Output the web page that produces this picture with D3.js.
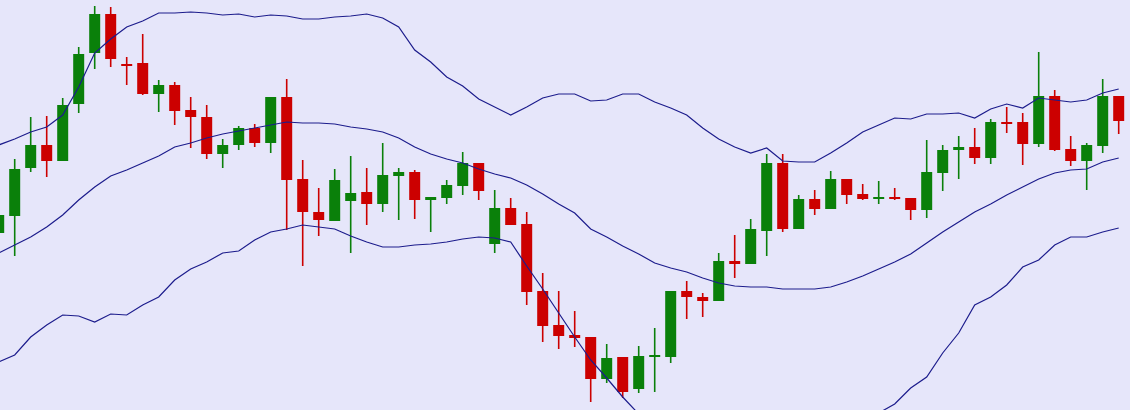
<!DOCTYPE html>

<head>
    <meta charset="utf-8">
    <script src="https://d3js.org/d3.v7.min.js"></script>
    <style>
        body {
            margin: 0;
            background: #e6e6fa;
            overflow: hidden;
        }
        .band {
            fill: none;
            stroke: #1c1c8c;
            stroke-width: 1.2px;
        }
        .wick {
            stroke-width: 1.6px;
        }
    </style>
</head>

<body>
<div id="chart"></div>
<script>
    // price series, one entry per session
    var open  = [177,194,242,265,249,306,357,396,346,347, 316,325,300,293,256,265,282,267,313,231,
                 198,189,209,218,206,234,238,210,212,224, 247,166,202,186,119,85,75,73,31,53,
                 21,53,53,119,113,109,149,146,179,247, 181,211,201,231,216,211,213,212,200,237,
                 260,263,252,288,288,266,314,261,249,264, 314];
    var high  = [200,251,293,294,312,363,404,403,353,376, 330,328,313,305,271,284,286,313,331,250,
                 222,241,254,242,267,242,240,213,230,258, 247,220,212,198,137,119,99,73,66,53,
                 64,82,119,129,117,157,175,191,256,256, 215,220,239,231,226,229,222,212,270,265,
                 274,282,291,303,297,358,320,274,267,331, 314];
    var low   = [172,154,238,233,249,297,341,343,325,315, 298,285,262,251,242,260,263,257,180,144,
                 174,189,157,185,198,190,191,178,206,215, 210,157,185,105,68,61,63,8,27,12,
                 17,18,47,91,93,109,132,146,154,178, 181,195,201,206,210,206,210,190,192,219,
                 231,246,246,277,245,263,259,244,220,257, 276];
    var close = [195,241,265,249,305,356,396,351,344,316, 325,299,293,256,265,282,267,313,230,198,
                 190,230,217,206,235,238,210,213,225,247, 219,202,185,118,84,74,72,31,52,18,
                 54,55,119,113,109,149,146,181,247,181, 211,201,231,215,211,213,211,200,238,260,
                 263,252,288,287,266,314,260,249,265,314, 289];

    // bollinger bands
    var upper  = [265,271,278,283,295,323,357,371,383,389, 397,397,398,397,395,396,393,395,394,391,
                  391,393,394,396,392,383,360,348,333,324, 311,303,295,303,312,316,316,309,310,316,
                  316,308,302,295,282,271,263,257,262,249, 248,248,257,267,278,285,292,291,296,296,
                  297,292,301,306,302,312,310,308,310,317, 321];
    var middle = [157,165,173,183,195,210,223,234,240,247, 254,263,267,272,276,279,282,285,288,287,
                  287,286,283,281,278,272,263,256,251,247, 241,236,232,225,216,206,197,181,173,164,
                  156,147,142,138,132,127,124,123,123,121, 121,121,123,128,134,141,148,156,167,178,
                  188,198,206,215,223,231,237,240,241,248, 252];
    var lower  = [48,55,73,85,95,94,88,96,95,105, 113,130,141,148,157,159,170,178,181,185,
                  183,181,174,168,163,163,165,166,168,171, 173,172,168,144,121,97,73,50,32,13,
                  -4,-14,-18,-19,-18,-17,-15,-11,-16,-7, -6,-6,-11,-11,-10,-3,6,22,33,57,
                  77,105,113,125,143,150,165,173,173,178, 182];

    var width = 1130;
    var height = 410;
    var upColor = "#0a800a";
    var downColor = "#cc0000";
    var bodyWidth = 11;

    var candles = open.map(function (o, i) {
        return { i: i, o: o, h: high[i], l: low[i], c: close[i] };
    });

    var svg = d3.select("#chart")
        .append("svg")
        .attr("width", width)
        .attr("height", height);

    // x: session index to candle centre, y: price to pixels
    var x = d3.scaleLinear()
        .domain([0, candles.length - 1])
        .range([-1.3, 1118.7]);

    var y = d3.scaleLinear()
        .domain([0, 410])
        .range([height, 0]);

    function colorOf(d) {
        return d.c >= d.o ? upColor : downColor;
    }

    var g = svg.append("g").attr("class", "candles");

    // wicks first so the bodies sit on top
    g.selectAll("line.wick")
        .data(candles)
        .enter().append("line")
        .attr("class", "wick")
        .attr("x1", function (d) { return x(d.i); })
        .attr("x2", function (d) { return x(d.i); })
        .attr("y1", function (d) { return y(d.h); })
        .attr("y2", function (d) { return y(d.l); })
        .attr("stroke", colorOf);

    g.selectAll("rect.body")
        .data(candles)
        .enter().append("rect")
        .attr("class", "body")
        .attr("x", function (d) { return x(d.i) - bodyWidth / 2; })
        .attr("y", function (d) { return y(Math.max(d.o, d.c)); })
        .attr("width", bodyWidth)
        .attr("height", function (d) { return Math.max(2, Math.abs(y(d.o) - y(d.c))); })
        .attr("fill", colorOf);

    // bands drawn over the candles
    var line = d3.line()
        .x(function (d, i) { return x(i); })
        .y(function (d) { return y(d); });

    [upper, middle, lower].forEach(function (band) {
        svg.append("path")
            .datum(band)
            .attr("class", "band")
            .attr("d", line);
    });
</script>
</body>
